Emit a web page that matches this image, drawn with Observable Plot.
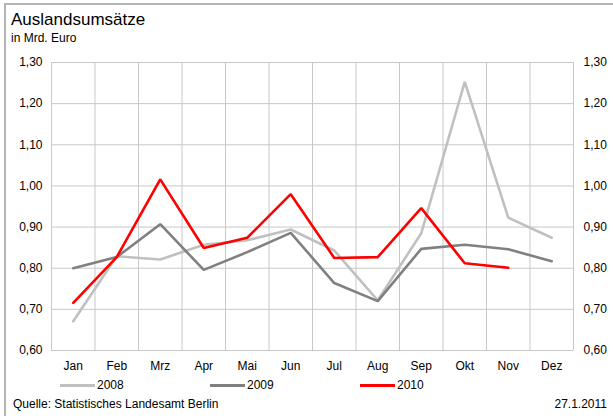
<!DOCTYPE html>
<html><head><meta charset="utf-8">
<script src="https://cdn.jsdelivr.net/npm/d3@7"></script>
<script src="https://cdn.jsdelivr.net/npm/@observablehq/plot@0.6"></script>
<style>
body{margin:0;background:#fff;font-family:"Liberation Sans",Arial,sans-serif;}
#wrap{position:relative;width:613px;height:419px;overflow:hidden;}
.t{position:absolute;white-space:nowrap;color:#000;}
</style></head>
<body><div id="wrap"></div>
<script>
const months = ["Jan","Feb","Mrz","Apr","Mai","Jun","Jul","Aug","Sep","Okt","Nov","Dez"];
const v2008 = [0.671,0.829,0.821,0.857,0.868,0.894,0.843,0.722,0.885,1.253,0.923,0.874];
const v2009 = [0.800,0.827,0.907,0.796,0.839,0.886,0.764,0.720,0.847,0.857,0.846,0.817];
const v2010 = [0.716,0.827,1.016,0.849,0.874,0.980,0.825,0.827,0.946,0.812,0.801];
const yTicks = [0.6,0.7,0.8,0.9,1.0,1.1,1.2,1.3];
const years = ["2008","2009","2010"];
const colors = ["#c0c0c0","#808080","#ff0000"];

(function () {
const series = [v2008, v2009, v2010];
const data = series.flatMap((vals, s) => vals.map((v, i) => ({year: years[s], i, v})));
const fmt = d => d.toFixed(2).replace(".", ",");
const idx = months.map((m, i) => i);
const bounds = d3.range(0, 13).map(i => i - 0.5);

const chart = Plot.plot({
  width: 613, height: 419,
  marginLeft: 51, marginRight: 40, marginTop: 62, marginBottom: 69,
  style: {fontFamily: "'Liberation Sans', Arial, sans-serif", fontSize: "12px", background: "transparent"},
  x: {domain: [-0.5, 11.5]},
  y: {domain: [0.6, 1.3]},
  color: {domain: years, range: colors},
  marks: [
    Plot.ruleY(yTicks, {stroke: "#c8c8c8", strokeWidth: 1}),
    Plot.ruleX(bounds, {stroke: "#c8c8c8", strokeWidth: 1}),
    Plot.axisY(yTicks, {anchor: "left", tickSize: 0, tickPadding: 9, tickFormat: fmt, label: null, fill: "#000"}),
    Plot.axisY(yTicks, {anchor: "right", tickSize: 0, tickPadding: 10, tickFormat: fmt, label: null, textAnchor: "start", fill: "#000"}),
    Plot.axisX(idx, {tickSize: 0, tickPadding: 11, tickFormat: i => months[i], label: null, fill: "#000"}),
    Plot.line(data, {x: "i", y: "v", z: "year", stroke: "year", strokeWidth: 2.6, strokeLinejoin: "miter"})
  ]
});
chart.style.position = "absolute";
chart.style.left = "0px";
chart.style.top = "0px";
const wrap = document.getElementById("wrap");
wrap.appendChild(chart);

const topLine = document.createElement("div");
topLine.style.cssText = "position:absolute;left:5px;top:3px;width:608px;height:0;border-top:2px solid #b4b4b4;";
wrap.appendChild(topLine);
const leftLine = document.createElement("div");
leftLine.style.cssText = "position:absolute;left:4px;top:3px;width:0;height:413px;border-left:2px solid #b4b4b4;";
wrap.appendChild(leftLine);

function addText(txt, x, y, size, right) {
  const d = document.createElement("div");
  d.className = "t";
  d.textContent = txt;
  d.style.fontSize = size + "px";
  d.style.lineHeight = "1";
  d.style.top = y + "px";
  if (right) d.style.right = (613 - x) + "px"; else d.style.left = x + "px";
  wrap.appendChild(d);
}
addText("Auslandsumsätze", 11, 11, 17);
addText("in Mrd. Euro", 11, 32, 12);
addText("Quelle: Statistisches Landesamt Berlin", 13, 398, 12);
addText("27.1.2011", 607, 398, 12, true);

const legX = [60, 210, 360];
years.forEach((y, k) => {
  const l = document.createElement("div");
  l.style.cssText = `position:absolute;left:${legX[k]}px;top:384px;width:35px;height:3px;background:${colors[k]};`;
  wrap.appendChild(l);
  addText(y, legX[k] + 37, 379, 12);
});
})();
</script></body></html>
